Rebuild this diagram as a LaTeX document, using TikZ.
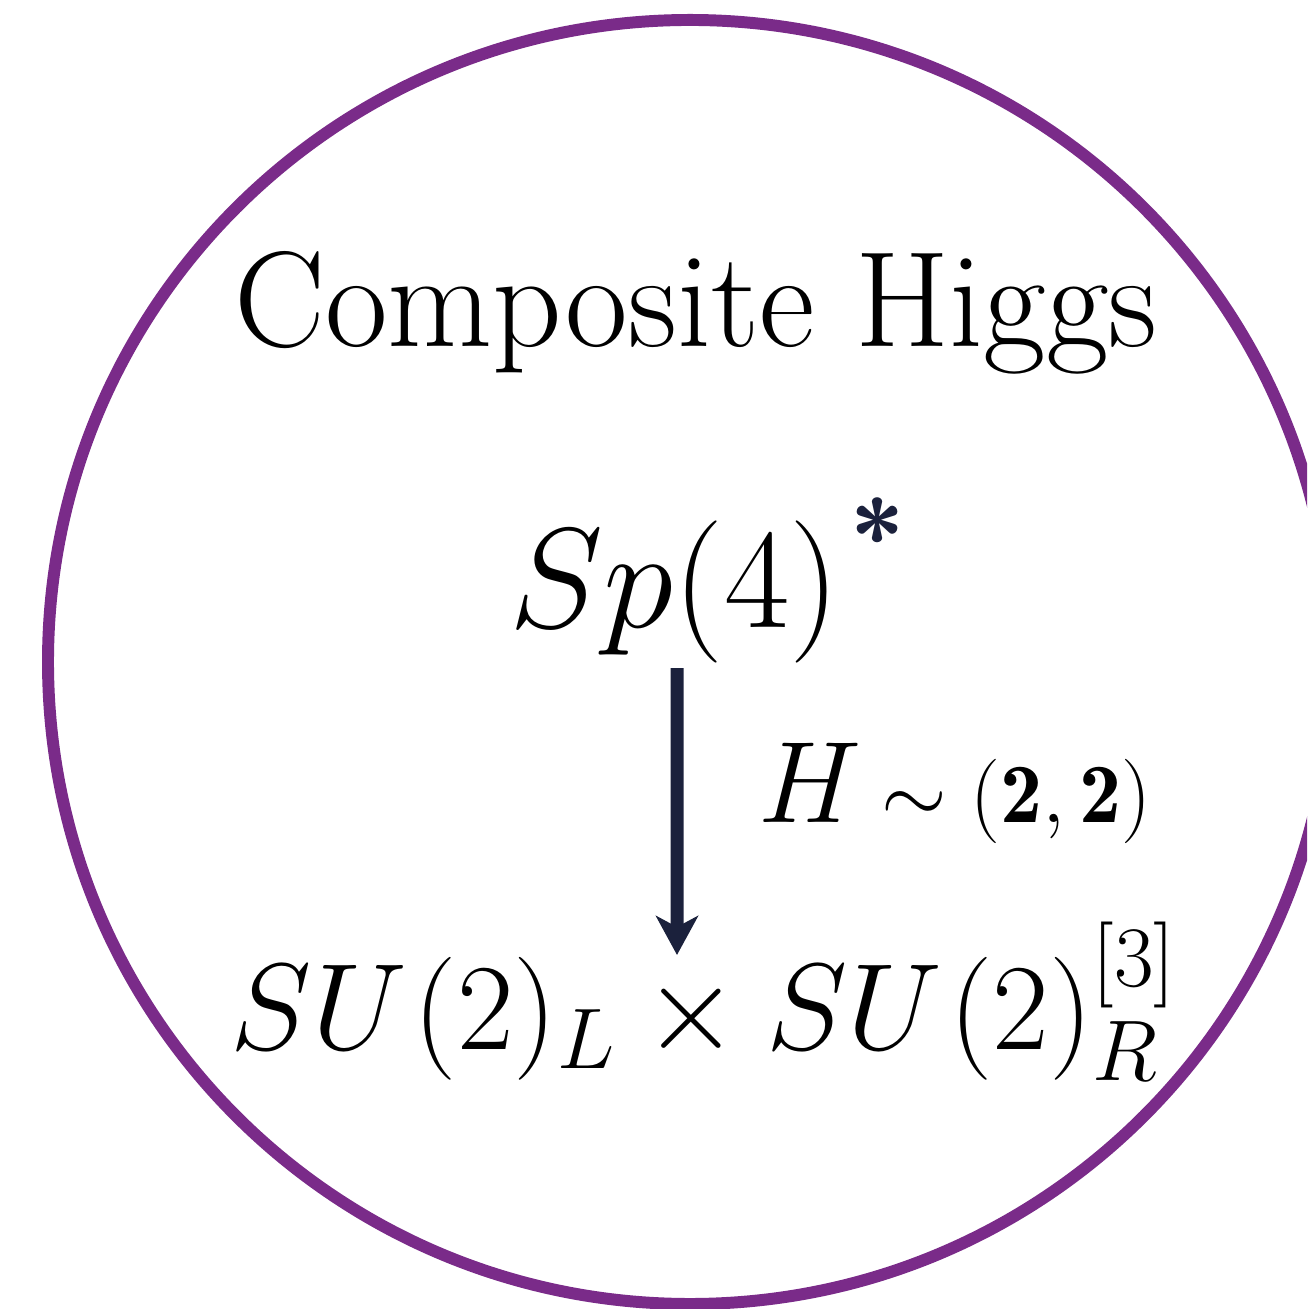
\documentclass[tikz,border=0pt]{standalone}
\usepackage{fix-cm}
\usepackage{fontspec}
\usepackage{amsmath}
\usetikzlibrary{arrows.meta}

\definecolor{higgspurple}{RGB}{122,43,137}
\definecolor{arrownavy}{RGB}{27,33,60}

\begin{document}
\begin{tikzpicture}
    % Frame of the picture (1 px = 0.01 cm)
    \useasboundingbox (0, 0) rectangle (13.07, 13.09);
    \clip (0, 0) rectangle (13.07, 13.09);

    % Outer circle
    \draw[higgspurple, line width=3.4pt] (6.90, 6.47) circle (6.42);

    % Title
    \node[anchor=base, inner sep=0] (title) at (6.96, 9.62)
        {\fontsize{38.7}{46}\selectfont Composite Higgs};

    % Unbroken group and the star
    \node[anchor=base, inner sep=0] (sp) at (6.75, 6.81)
        {\fontsize{40.5}{48}\selectfont $Sp(4)$};
    \node[text=arrownavy, inner sep=0] (star) at (8.78, 7.74)
        {\fontsize{28}{34}\selectfont\sffamily\bfseries *};

    % Breaking pattern
    \node[anchor=base, inner sep=0] (su) at (7.04, 2.59)
        {\fontsize{35}{42}\selectfont $SU\mkern1mu(2)_L\times SU\mkern1mu(2)_R^{[3]}$};

    % Arrow with Higgs label
    \coordinate (tip) at (6.77, 3.54);
    \draw[arrownavy, line width=3.7pt,
          -{Stealth[length=3.9mm, width=4.2mm, inset=1.1mm]}]
        ([xshift=0.2mm, yshift=-0.4mm]sp.south) -- (tip);
    \node[anchor=base west, inner sep=0] (hlabel) at (7.58, 4.86)
        {\fontsize{33}{40}\selectfont $H$\,{\fontsize{24}{30}\selectfont $\sim\mathbf{(2,2)}$}};
\end{tikzpicture}
\end{document}
